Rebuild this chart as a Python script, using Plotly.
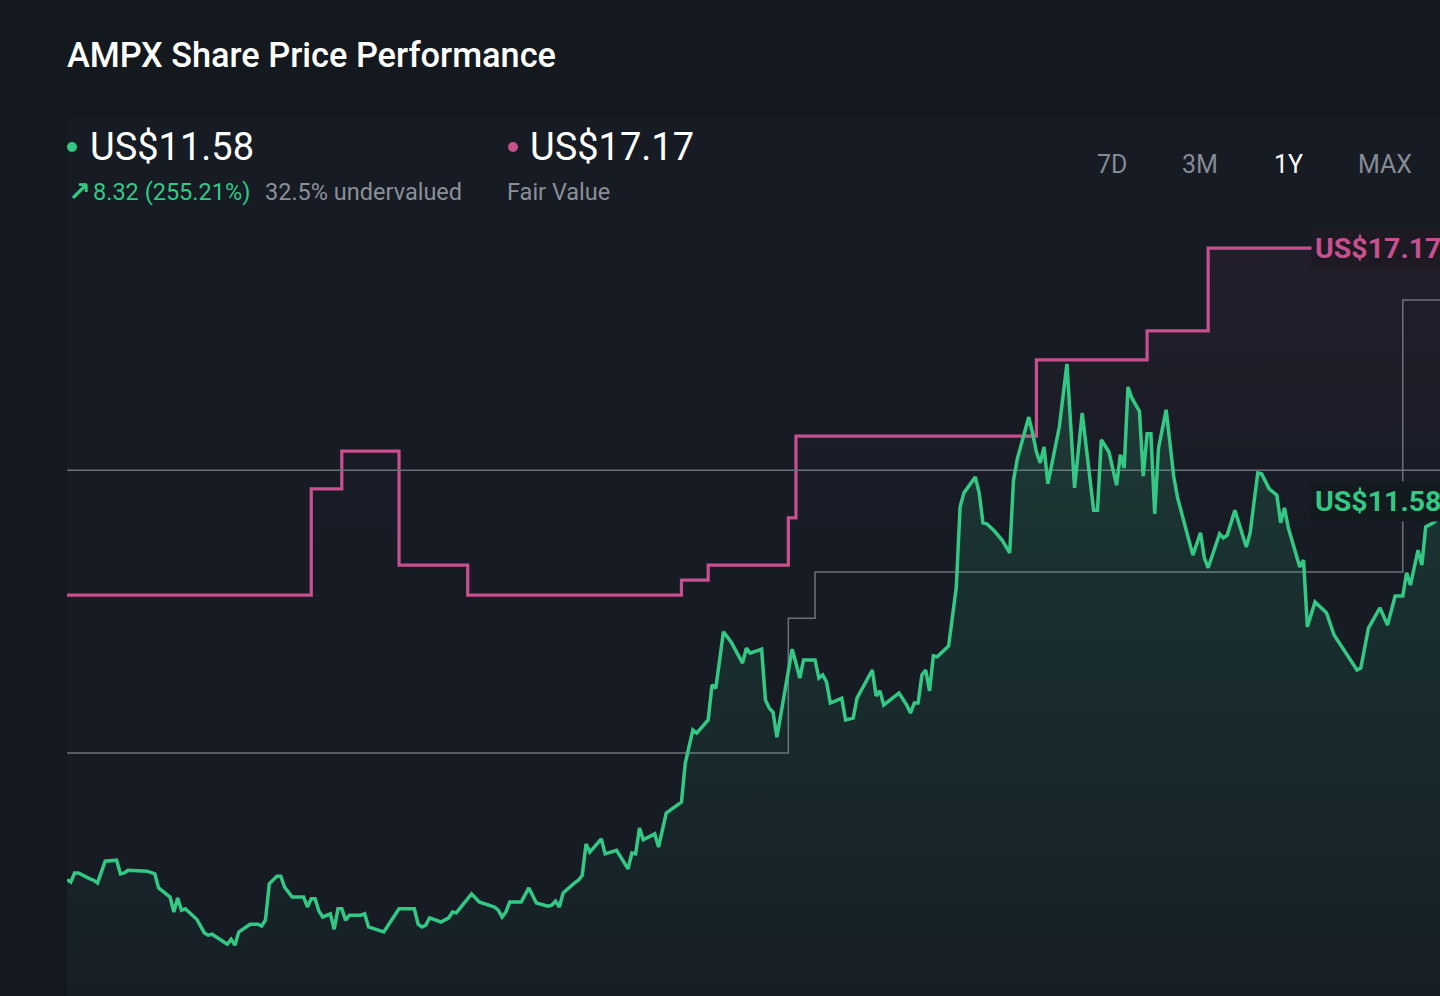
import plotly.graph_objects as go

# share price
price_dates = [
    "2025-02-13", "2025-02-14", "2025-02-15", "2025-02-16", "2025-02-19", "2025-02-20",
    "2025-02-21", "2025-02-23", "2025-02-26", "2025-02-27", "2025-02-28", "2025-03-01",
    "2025-03-06", "2025-03-08", "2025-03-09", "2025-03-12", "2025-03-13", "2025-03-14",
    "2025-03-15", "2025-03-16", "2025-03-19", "2025-03-21", "2025-03-22", "2025-03-23",
    "2025-03-27", "2025-03-28", "2025-03-29", "2025-03-30", "2025-04-02", "2025-04-04",
    "2025-04-05", "2025-04-06", "2025-04-07", "2025-04-09", "2025-04-10", "2025-04-11",
    "2025-04-13", "2025-04-16", "2025-04-17", "2025-04-18", "2025-04-19", "2025-04-20",
    "2025-04-21", "2025-04-23", "2025-04-24", "2025-04-25", "2025-04-26", "2025-04-27",
    "2025-04-28", "2025-05-01", "2025-05-02", "2025-05-03", "2025-05-07", "2025-05-11",
    "2025-05-15", "2025-05-16", "2025-05-17", "2025-05-18", "2025-05-19", "2025-05-22",
    "2025-05-24", "2025-05-25", "2025-05-26", "2025-05-30", "2025-06-01", "2025-06-05",
    "2025-06-06", "2025-06-07", "2025-06-08", "2025-06-09", "2025-06-12", "2025-06-14",
    "2025-06-16", "2025-06-19", "2025-06-20", "2025-06-21", "2025-06-22", "2025-06-23",
    "2025-06-26", "2025-06-27", "2025-06-28", "2025-06-29", "2025-06-30", "2025-07-03",
    "2025-07-04", "2025-07-07", "2025-07-10", "2025-07-11", "2025-07-12", "2025-07-13",
    "2025-07-14", "2025-07-17", "2025-07-18", "2025-07-20", "2025-07-24", "2025-07-25",
    "2025-07-27", "2025-07-28", "2025-07-31", "2025-08-01", "2025-08-02", "2025-08-04",
    "2025-08-06", "2025-08-09", "2025-08-10", "2025-08-11", "2025-08-14", "2025-08-15",
    "2025-08-16", "2025-08-17", "2025-08-18", "2025-08-22", "2025-08-23", "2025-08-24",
    "2025-08-25", "2025-08-28", "2025-08-29", "2025-08-30", "2025-08-31", "2025-09-01",
    "2025-09-04", "2025-09-05", "2025-09-07", "2025-09-08", "2025-09-12", "2025-09-13",
    "2025-09-14", "2025-09-15", "2025-09-19", "2025-09-21", "2025-09-22", "2025-09-23",
    "2025-09-24", "2025-09-25", "2025-09-26", "2025-09-27", "2025-09-28", "2025-09-29",
    "2025-10-02", "2025-10-04", "2025-10-05", "2025-10-06", "2025-10-09", "2025-10-10",
    "2025-10-11", "2025-10-12", "2025-10-14", "2025-10-16", "2025-10-18", "2025-10-19",
    "2025-10-20", "2025-10-23", "2025-10-24", "2025-10-25", "2025-10-26", "2025-10-27",
    "2025-10-28", "2025-10-31", "2025-11-02", "2025-11-03", "2025-11-04", "2025-11-06",
    "2025-11-09", "2025-11-10", "2025-11-11", "2025-11-13", "2025-11-15", "2025-11-16",
    "2025-11-17", "2025-11-18", "2025-11-19", "2025-11-21", "2025-11-22", "2025-11-23",
    "2025-11-24", "2025-11-25", "2025-11-26", "2025-11-28", "2025-11-30", "2025-12-01",
    "2025-12-03", "2025-12-05", "2025-12-07", "2025-12-08", "2025-12-09", "2025-12-12",
    "2025-12-13", "2025-12-14", "2025-12-16", "2025-12-19", "2025-12-20", "2025-12-22",
    "2025-12-23", "2025-12-25", "2025-12-27", "2025-12-28", "2025-12-29", "2025-12-30",
    "2026-01-02", "2026-01-03", "2026-01-04", "2026-01-06", "2026-01-09", "2026-01-11",
    "2026-01-17", "2026-01-18", "2026-01-20", "2026-01-23", "2026-01-25", "2026-01-27",
    "2026-01-29", "2026-01-30", "2026-01-31", "2026-02-02", "2026-02-03", "2026-02-04",
    "2026-02-06", "2026-02-08", "2026-02-13",
]
price_values = [
    3.26, 3.21, 3.41, 3.41, 3.28, 3.25,
    3.19, 3.67, 3.69, 3.39, 3.41, 3.47,
    3.45, 3.39, 3.08, 2.88, 2.55, 2.86,
    2.59, 2.62, 2.39, 2.09, 2.04, 2.06,
    1.84, 1.95, 1.82, 2.11, 2.28, 2.28,
    2.24, 2.37, 3.17, 3.34, 3.34, 3.10,
    2.88, 2.88, 2.66, 2.84, 2.84, 2.57,
    2.44, 2.51, 2.17, 2.62, 2.62, 2.37,
    2.48, 2.48, 2.51, 2.22, 2.11, 2.62,
    2.62, 2.28, 2.22, 2.26, 2.42, 2.33,
    2.42, 2.55, 2.53, 2.95, 2.77, 2.66,
    2.59, 2.44, 2.55, 2.77, 2.77, 3.08,
    2.75, 2.68, 2.70, 2.79, 2.66, 2.97,
    3.19, 3.25, 3.36, 4.05, 3.87, 4.16,
    3.83, 3.91, 3.50, 3.85, 3.83, 4.40,
    4.14, 4.27, 3.98, 4.73, 4.97, 5.83,
    6.56, 6.49, 6.78, 7.55, 7.48, 8.72,
    8.50, 8.03, 8.36, 8.25, 8.34, 7.22,
    7.04, 6.95, 6.40, 8.34, 8.03, 7.70,
    8.10, 8.10, 7.70, 7.77, 7.62, 7.15,
    7.26, 6.78, 6.82, 7.26, 7.88, 7.31,
    7.42, 7.11, 7.37, 7.11, 6.93, 7.15,
    7.15, 7.77, 7.88, 7.42, 8.19, 8.17,
    8.41, 9.69, 11.47, 11.78, 12.13, 11.78,
    11.12, 11.10, 10.94, 10.74, 10.46, 12.06,
    12.53, 13.45, 13.10, 12.68, 12.44, 12.79,
    11.98, 13.23, 14.62, 13.10, 11.89, 13.54,
    11.40, 11.40, 12.95, 12.68, 11.95, 12.62,
    12.33, 14.11, 13.87, 13.58, 12.15, 13.08,
    13.08, 11.32, 12.77, 13.61, 12.13, 11.67,
    11.07, 10.41, 10.90, 10.35, 10.13, 10.88,
    10.79, 10.85, 11.40, 10.59, 10.90, 12.22,
    12.20, 11.87, 11.73, 11.12, 11.45, 11.01,
    10.15, 10.30, 8.83, 9.38, 9.14, 8.65,
    7.88, 7.92, 8.80, 9.25, 8.87, 9.51,
    9.51, 10.02, 9.75, 10.52, 10.19, 11.03,
    11.12, 11.25, 11.58,
]

# fair value estimate (step line)
fair_dates = ["2025-02-13", "2025-04-18", "2025-04-26", "2025-05-11", "2025-05-29", "2025-07-24",
              "2025-07-31", "2025-08-21", "2025-08-23", "2025-10-25", "2025-11-23", "2025-12-09",
              "2026-02-13"]
fair_values = [9.53, 11.87, 12.70, 10.19, 9.53, 9.86, 10.19, 11.23, 13.03, 14.71, 15.35, 17.17, 17.17]

# grey reference lines
target_dates = ["2025-02-13", "2025-08-21", "2025-08-28", "2026-01-29", "2026-02-13"]
target_values = [6.05, 9.02, 10.04, 16.03, 16.03]
level_dates = ["2025-02-13", "2026-02-13"]
level_values = [12.28, 12.28]

ranges = ["7D", "3M", "1Y", "MAX"]
range_active = "1Y"

GREEN = "#33c985"
PINK = "#c8508e"
GREY = "#6c717a"
BG = "#141920"
W, H = 1440, 996
L, T = 67, 215


def px(x):
    return (x - L) / (W - L)


def py(y):
    return (H - y) / (H - T)


fig = go.Figure()

fig.add_trace(go.Scatter(
    x=fair_dates, y=fair_values, mode="lines", line_shape="hv",
    line=dict(color=PINK, width=3.2),
    fill="tozeroy",
    fillgradient=dict(type="vertical", start=10.5, stop=17.2,
                      colorscale=[[0, "rgba(200,80,142,0)"], [1, "rgba(200,80,142,0.07)"]]),
    hoverinfo="skip"
))
fig.add_trace(go.Scatter(
    x=level_dates, y=level_values, mode="lines",
    line=dict(color=GREY, width=1.5), hoverinfo="skip"
))
fig.add_trace(go.Scatter(
    x=target_dates, y=target_values, mode="lines", line_shape="hv",
    line=dict(color=GREY, width=1.5), hoverinfo="skip"
))
fig.add_trace(go.Scatter(
    x=price_dates, y=price_values, mode="lines",
    line=dict(color=GREEN, width=3.5),
    fill="tozeroy",
    fillgradient=dict(type="vertical", start=0.7, stop=14.6,
                      colorscale=[[0, "rgba(51,201,133,0.02)"], [1, "rgba(51,201,133,0.17)"]]),
    hoverinfo="skip"
))

notes = [
    dict(x=px(65), y=py(55), text="AMPX Share Price Performance",
         font=dict(size=34.3, color="#ffffff", weight=500, family="Roboto Medium, Roboto, sans-serif")),
    dict(x=px(88), y=py(147), text="US$11.58", font=dict(size=38, color="#ffffff")),
    dict(x=px(66), y=py(192), text="↗", font=dict(size=27, color=GREEN, family="DejaVu Sans", weight="bold")),
    dict(x=px(91), y=py(192), text="8.32 (255.21%)", font=dict(size=23.5, color=GREEN)),
    dict(x=px(263), y=py(192), text="32.5% undervalued", font=dict(size=23.5, color="#8b9098")),
    dict(x=px(528), y=py(147), text="US$17.17", font=dict(size=38, color="#ffffff")),
    dict(x=px(505), y=py(192), text="Fair Value", font=dict(size=23.5, color="#8b9098")),
]
annotations = []
for n in notes:
    annotations.append(dict(xref="paper", yref="paper", xanchor="left", yanchor="middle",
                            showarrow=False, x=n["x"], y=n["y"], text=n["text"], font=n["font"]))

for label, cx in zip(ranges, [1112, 1200, 1288, 1385]):
    annotations.append(dict(
        xref="paper", yref="paper", x=px(cx), y=py(164), xanchor="center", yanchor="middle",
        showarrow=False, text=label,
        font=dict(size=25, color="#ffffff" if label == range_active else "#858b94")
    ))

# value tags on the right edge (they run off the chart)
annotations.append(dict(
    xref="paper", yref="y", x=px(1311), y=fair_values[-1], xanchor="left", yanchor="middle",
    showarrow=False, text="US$17.17", font=dict(size=28.5, color=PINK, weight="bold"),
    bgcolor="#1e1a24", borderpad=3, width=180, align="left", xshift=0
))
annotations.append(dict(
    xref="paper", yref="y", x=px(1311), y=price_values[-1], xanchor="left", yanchor="middle",
    showarrow=False, text="US$11.58", font=dict(size=28.5, color=GREEN, weight="bold"),
    bgcolor="#141b1e", borderpad=3, width=180, align="left"
))

shapes = [dict(type="rect", xref="paper", yref="paper", x0=0, x1=1, y0=1, y1=py(118),
               fillcolor="#161b24", line_width=0, layer="below")]
# legend dots
for cx, col in [(72, GREEN), (513, PINK)]:
    shapes.append(dict(type="circle", xref="paper", yref="paper",
                       xsizemode="pixel", ysizemode="pixel", xanchor=px(cx), yanchor=py(147),
                       x0=-5, x1=5, y0=-5, y1=5, fillcolor=col, line_width=0))

fig.update_layout(
    width=W, height=H,
    margin=dict(l=L, r=0, t=T, b=0),
    paper_bgcolor=BG,
    plot_bgcolor="#161b24",
    showlegend=False,
    font=dict(family="Roboto, sans-serif"),
    xaxis=dict(visible=False, range=["2025-02-13", "2026-02-07 18:00"]),
    yaxis=dict(visible=False, range=[0.70, 17.90]),
    annotations=annotations,
    shapes=shapes,
)

fig.write_html("out.html", config={"displayModeBar": False},
               post_script="document.body.style.margin='0';")
